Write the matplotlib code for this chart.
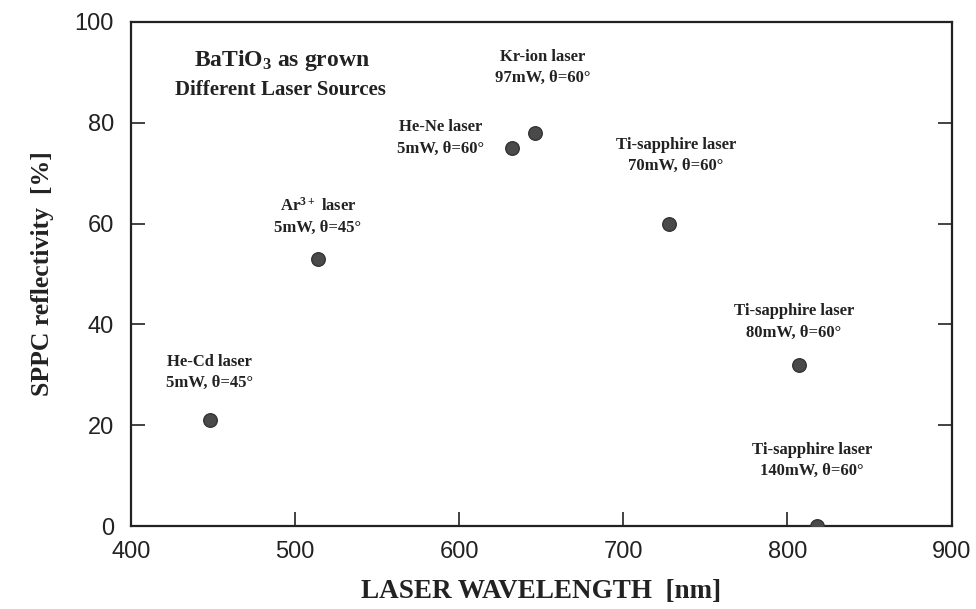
import matplotlib.pyplot as plt

# data
wavelength = [448, 514, 632, 646, 728, 807, 818]
reflectivity = [21, 53, 75, 78, 60, 32, 0]
source_names = ['He-Cd laser', 'Ar$^{3+}$ laser', 'He-Ne laser', 'Kr-ion laser',
                'Ti-sapphire laser', 'Ti-sapphire laser', 'Ti-sapphire laser']
source_conds = ['5mW, θ=45°', '5mW, θ=45°', '5mW, θ=60°', '97mW, θ=60°',
                '70mW, θ=60°', '80mW, θ=60°', '140mW, θ=60°']
# label anchor (centre of the two-line label) in data coords
label_x = [448, 514, 589, 651, 732, 804, 815]
label_y = [30.5, 61.5, 77, 91, 73.5, 40.5, 13]

plt.rcParams['mathtext.default'] = 'regular'

fig = plt.figure(figsize=(9.76, 6.09), dpi=100)
ax = fig.add_axes([0.134, 0.136, 0.841, 0.828])

ax.scatter(wavelength, reflectivity, s=95, color='#4a4a4a', edgecolors='#333333', zorder=3)

for name, cond, x, y in zip(source_names, source_conds, label_x, label_y):
    ax.text(x, y, name + '\n' + cond, ha='center', va='center', fontsize=12,
            family='Liberation Serif', weight='bold', color='#222222', linespacing=1.45)

ax.text(492, 92.3, 'BaTiO$_3$ as grown', ha='center', va='center', fontsize=17,
        family='Liberation Serif', weight='bold', color='#222222')
ax.text(491, 86.5, 'Different Laser Sources', ha='center', va='center', fontsize=15,
        family='Liberation Serif', weight='bold', color='#222222')

ax.set_xlim(400, 900)
ax.set_ylim(0, 100)
ax.set_xticks([400, 500, 600, 700, 800, 900])
ax.set_yticks([0, 20, 40, 60, 80, 100])

for lbl in ax.get_xticklabels() + ax.get_yticklabels():
    lbl.set_family('Liberation Sans')
    lbl.set_fontsize(17)
    lbl.set_color('#222222')

ax.tick_params(direction='in', length=10, width=1.2, right=True, top=False, colors='#222222')
ax.tick_params(axis='x', pad=11)
ax.tick_params(axis='y', pad=12)
for sp in ax.spines.values():
    sp.set_linewidth(1.6)
    sp.set_color('#222222')

ax.set_xlabel('LASER WAVELENGTH  [nm]', family='Liberation Serif', weight='bold',
              fontsize=19.5, labelpad=11, color='#222222')
ax.set_ylabel('SPPC reflectivity  [%]', family='Liberation Serif', weight='bold',
              fontsize=18.5, labelpad=15, color='#222222')

fig.savefig('out.png', dpi=100)
